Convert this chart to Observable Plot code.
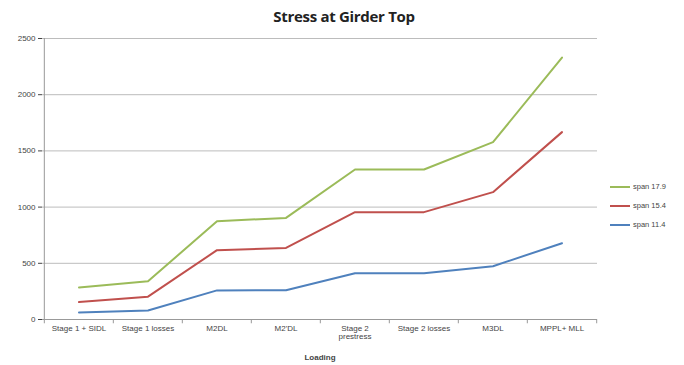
<!DOCTYPE html>
<html><head><meta charset="utf-8">
<script src="https://cdn.jsdelivr.net/npm/d3@7"></script>
<script src="https://cdn.jsdelivr.net/npm/@observablehq/plot@0.6"></script>
<style>
body{margin:0;background:#fff;}
#wrap{position:relative;width:684px;height:365px;overflow:hidden;}
#title{position:absolute;left:0;width:688px;top:6px;text-align:center;font:bold 15px "Open Sans",sans-serif;color:#222;letter-spacing:-0.3px;}
#legend{position:absolute;left:610px;top:177px;font:7.5px "Liberation Sans",sans-serif;color:#444;}
#legend .row{height:19px;display:flex;align-items:center;}
#legend .sw{width:20px;height:2px;margin-right:3px;}
[aria-label="x-axis label"] text{font-weight:bold;}
</style></head><body>
<div id="wrap"><div id="title">Stress at Girder Top</div><div id="chart"></div><div id="legend"></div></div>
<script>
const categories = ["Stage 1 + SIDL","Stage 1 losses","M2DL","M2'DL","Stage 2\nprestress","Stage 2 losses","M3DL","MPPL+ MLL"];
const seriesNames = ["span 17.9","span 15.4","span 11.4"];
const span179 = [285,340,874,904,1335,1335,1578,2330];
const span154 = [155,203,617,637,955,955,1133,1667];
const span114 = [62,80,259,261,412,412,474,679];
const yTicks = [0,500,1000,1500,2000,2500];
const colors = ["#9bbb59","#c0504d","#4f81bd"];

const seriesValues = [span179, span154, span114];
const data = [];
seriesNames.forEach((s, i) => categories.forEach((c, j) => data.push({series: s, cat: c, value: seriesValues[i][j]})));

const left = 42, right = 597;
const half = (right - left) / categories.length / 2;

const chart = Plot.plot({
  width: 684, height: 365,
  marginLeft: left, marginRight: 684 - right, marginTop: 38, marginBottom: 46,
  style: {fontFamily: "Liberation Sans, sans-serif", fontSize: "8px", color: "#444", background: "#fff"},
  x: {type: "band", domain: categories, padding: 0, label: "Loading", labelAnchor: "center", labelOffset: 40, tickSize: 0, tickPadding: 6},
  y: {domain: [0, 2500], ticks: yTicks, tickFormat: d3.format("d"), tickSize: 4, tickPadding: 3, label: null},
  color: {domain: seriesNames, range: colors},
  marks: [
    Plot.gridY(yTicks, {stroke: "#bcbcbc", strokeOpacity: 1}),
    Plot.ruleX(categories.slice(0, 1), {dx: -half, y1: 0, y2: 2500, stroke: "#999"}),
    Plot.ruleX(categories, {dx: -half, y1: 0, y2: -38, stroke: "#999", clip: false}),
    Plot.ruleX(categories.slice(-1), {dx: half, y1: 0, y2: -38, stroke: "#999"}),
    Plot.ruleY([0], {stroke: "#999"}),
    Plot.line(data, {x: "cat", y: "value", z: "series", stroke: "series", strokeWidth: 2})
  ]
});
document.getElementById("chart").appendChild(chart);

const leg = document.getElementById("legend");
seriesNames.forEach((s, i) => {
  const r = document.createElement("div"); r.className = "row";
  const sw = document.createElement("div"); sw.className = "sw"; sw.style.background = colors[i];
  const t = document.createElement("span"); t.textContent = s;
  r.appendChild(sw); r.appendChild(t); leg.appendChild(r);
});
</script></body></html>
